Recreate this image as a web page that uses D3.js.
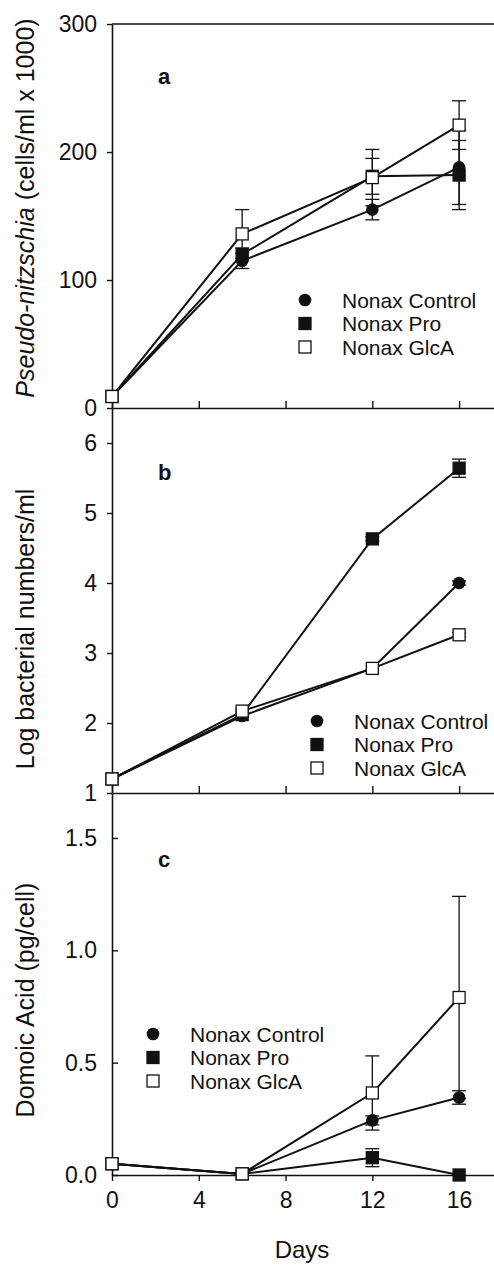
<!DOCTYPE html>
<html>
<head>
<meta charset="utf-8">
<script src="https://cdn.jsdelivr.net/npm/d3@7"></script>
<style>
  body { margin: 0; background: #fff; }
  text { font-family: "Liberation Sans", Arial, sans-serif; fill: #111; }
</style>
</head>
<body>
<div id="chart"></div>
<script>
// sampling days
var days = [0, 6, 12, 16];
var seriesNames = ["Nonax Control", "Nonax Pro", "Nonax GlcA"];
var xTicks = [0, 4, 8, 12, 16];

// panel a: Pseudo-nitzschia (cells/ml x 1000)
var cellsControl = [9, 115, 155, 188];
var cellsPro = [9, 120, 181, 182];
var cellsGlcA = [9, 136, 180, 221];
var cellsControlErr = [0, 6, 8, 29];
var cellsProErr = [0, 5, 14, 27];
var cellsGlcAErr = [0, 19, 22, 19];

// panel b: log bacterial numbers/ml
var bactControl = [1.2, 2.1, 2.78, 4.0];
var bactPro = [1.2, 2.12, 4.63, 5.64];
var bactGlcA = [1.2, 2.17, 2.78, 3.26];
var bactControlErr = [0, 0, 0, 0.03];
var bactProErr = [0, 0, 0.03, 0.13];
var bactGlcAErr = [0, 0, 0, 0.03];

// panel c: domoic acid (pg/cell)
var daControl = [0.05, 0.005, 0.243, 0.345];
var daPro = [0.05, 0.005, 0.077, 0.0];
var daGlcA = [0.05, 0.005, 0.365, 0.79];
var daControlErr = [0, 0, 0.02, 0.03];
var daProErr = [0, 0, 0.04, 0];
var daGlcAErr = [0, 0, 0.165, 0.45];

var width = 494, height = 1265;

var svg = d3.select("#chart").append("svg")
    .attr("width", width)
    .attr("height", height);

var x = d3.scaleLinear().domain([0, 18]).range([112, 502.5]);

var panels = [
  { letter: "a", top: 24, bottom: 408, domain: [0, 300], ticks: [0, 100, 200, 300], fmt: d3.format("d"),
    series: [cellsControl, cellsPro, cellsGlcA], errs: [cellsControlErr, cellsProErr, cellsGlcAErr],
    legend: [305, 300], labelY: 208, tickOut: true, frameTop: true },
  { letter: "b", top: 408, bottom: 793, domain: [1, 6.5], ticks: [1, 2, 3, 4, 5, 6], fmt: d3.format("d"),
    series: [bactControl, bactPro, bactGlcA], errs: [bactControlErr, bactProErr, bactGlcAErr],
    legend: [317, 721], labelY: 629, tickOut: true },
  { letter: "c", top: 793, bottom: 1175, domain: [0, 1.7], ticks: [0, 0.5, 1.0, 1.5], fmt: d3.format(".1f"),
    series: [daControl, daPro, daGlcA], errs: [daControlErr, daProErr, daGlcAErr],
    legend: [153, 1034], labelY: 1000, tickOut: false, xLabels: true }
];

function drawMarker(g, i, cx, cy) {
  if (i === 0) {
    g.append("circle").attr("cx", cx).attr("cy", cy).attr("r", 6.3).attr("fill", "#111");
  } else {
    g.append("rect")
      .attr("x", cx - 6).attr("y", cy - 6)
      .attr("width", 12).attr("height", 12)
      .attr("fill", i === 1 ? "#111" : "#fff")
      .attr("stroke", "#111").attr("stroke-width", 1.3);
  }
}

panels.forEach(function (p, pi) {
  var y = d3.scaleLinear().domain(p.domain).range([p.bottom, p.top]);
  var g = svg.append("g");

  // y axis
  var yAxis = d3.axisLeft(y).tickValues(p.ticks).tickFormat(p.fmt)
      .tickSizeInner(p.tickOut ? 5 : -6).tickSizeOuter(0).tickPadding(p.tickOut ? 10 : 15);
  var gy = g.append("g").attr("transform", "translate(" + x(0) + ",0)").call(yAxis);
  gy.select(".domain").attr("stroke", "#111").attr("stroke-width", 1.6);
  gy.selectAll(".tick line").attr("stroke", "#111").attr("stroke-width", 1.4);
  gy.selectAll(".tick text").style("font-size", "23px").attr("fill", "#111")
    .style("font-family", "'Liberation Sans', Arial, sans-serif");

  // x axis
  var xAxis = d3.axisBottom(x).tickValues(xTicks)
      .tickSizeInner(p.xLabels ? 6 : -7).tickSizeOuter(0).tickPadding(11)
      .tickFormat(p.xLabels ? d3.format("d") : "");
  var gx = g.append("g").attr("transform", "translate(0," + p.bottom + ")").call(xAxis);
  gx.select(".domain").attr("stroke", "#111").attr("stroke-width", 1.6);
  gx.selectAll(".tick line").attr("stroke", "#111").attr("stroke-width", 1.4);
  gx.selectAll(".tick text").style("font-size", "23px").attr("fill", "#111")
    .style("font-family", "'Liberation Sans', Arial, sans-serif");

  if (p.frameTop) {
    g.append("line").attr("x1", x(0)).attr("x2", width).attr("y1", p.top).attr("y2", p.top)
      .attr("stroke", "#111").attr("stroke-width", 1.6);
  }

  // panel letter
  g.append("text").attr("x", 158).attr("y", p.top + (pi === 0 ? 60 : (pi === 1 ? 72 : 74)))
    .style("font-size", "22px").style("font-weight", "bold").text(p.letter);

  // lines
  var line = d3.line().x(function (d, i) { return x(days[i]); }).y(function (d) { return y(d); });
  p.series.forEach(function (s) {
    g.append("path").datum(s).attr("d", line)
      .attr("fill", "none").attr("stroke", "#111").attr("stroke-width", 2);
  });

  // error bars
  p.series.forEach(function (s, si) {
    s.forEach(function (v, i) {
      var e = p.errs[si][i];
      if (!e) return;
      var cx = x(days[i]);
      g.append("line").attr("x1", cx).attr("x2", cx).attr("y1", y(v - e)).attr("y2", y(v + e))
        .attr("stroke", "#111").attr("stroke-width", 1.3);
      [v - e, v + e].forEach(function (t) {
        g.append("line").attr("x1", cx - 7).attr("x2", cx + 7).attr("y1", y(t)).attr("y2", y(t))
          .attr("stroke", "#111").attr("stroke-width", 1.3);
      });
    });
  });

  // markers
  p.series.forEach(function (s, si) {
    s.forEach(function (v, i) { drawMarker(g, si, x(days[i]), y(v)); });
  });

  // legend
  seriesNames.forEach(function (name, i) {
    var ly = p.legend[1] + i * 23.5;
    drawMarker(g, i, p.legend[0], ly);
    g.append("text").attr("x", p.legend[0] + 37).attr("y", ly).attr("dy", "0.36em")
      .style("font-size", "21px").text(name);
  });

  // y label
  var lab = g.append("text")
    .attr("transform", "translate(25," + p.labelY + ") rotate(-90)")
    .attr("text-anchor", "middle").attr("dy", "0.36em")
    .style("font-size", "25px");
  if (pi === 0) {
    lab.append("tspan").style("font-style", "italic").text("Pseudo-nitzschia");
    lab.append("tspan").text(" (cells/ml x 1000)");
  } else if (pi === 1) {
    lab.text("Log bacterial numbers/ml");
  } else {
    lab.text("Domoic Acid (pg/cell)");
  }
});

svg.append("text").attr("x", 302).attr("y", 1258).attr("text-anchor", "middle")
  .style("font-size", "24px").text("Days");
</script>
</body>
</html>
